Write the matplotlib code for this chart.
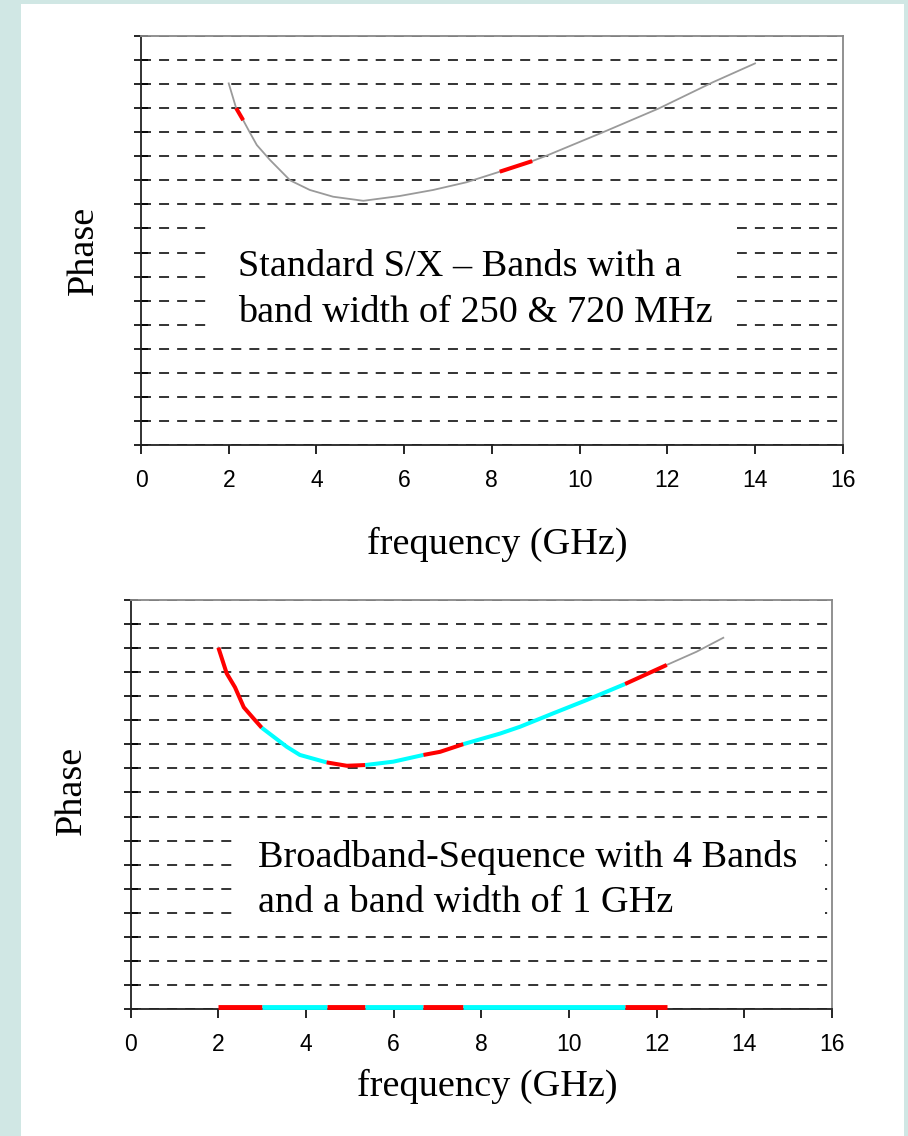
import numpy as np
import matplotlib.pyplot as plt
from matplotlib.patches import Rectangle

plt.rcParams['lines.scale_dashes'] = False

# Top panel: standard S/X observing (curve)
top_freq = [2.0, 2.17, 2.33, 2.49, 2.64, 2.94, 3.40, 3.85, 4.38, 5.07,
            5.9, 6.66, 7.42, 8.18, 8.92, 9.24, 10.6, 11.82, 13.03, 14.0]
top_phase = [15.03, 14.0, 13.5, 12.96, 12.47, 11.85, 11.0, 10.6, 10.32, 10.15,
             10.35, 10.6, 10.92, 11.36, 11.8, 12.02, 13.05, 14.0, 15.07, 15.86]
top_bands = [(2.17, 2.33), (8.18, 8.92)]
top_band_colors = ['red', 'red']

# Bottom panel: broadband sequence
bot_freq = [2.0, 2.19, 2.38, 2.58, 2.8, 2.99, 3.56, 3.86, 4.47, 4.93, 5.35,
            5.99, 6.68, 7.06, 7.59, 8.43, 8.88, 9.64, 10.40, 11.28, 12.23, 12.91, 13.52]
bot_phase = [15.02, 13.95, 13.37, 12.54, 12.08, 11.69, 10.9, 10.56, 10.25, 10.11, 10.14,
             10.28, 10.56, 10.69, 11.01, 11.45, 11.73, 12.29, 12.84, 13.51, 14.3, 14.85, 15.43]
bot_bands = [(2.0, 2.99), (2.99, 4.47), (4.47, 5.35), (5.35, 6.68),
             (6.68, 7.59), (7.59, 11.28), (11.28, 12.23)]
bot_band_colors = ['red', 'cyan', 'red', 'cyan', 'red', 'cyan', 'red']

xticks = [0, 2, 4, 6, 8, 10, 12, 14, 16]

top_text = "Standard S/X \u2013 Bands with a\nband width of 250 & 720 MHz"
bot_text = "Broadband-Sequence with 4 Bands\nand a band width of 1 GHz"

W, H = 908, 1136
fig = plt.figure(figsize=(W / 100, H / 100), dpi=100, facecolor='#d0e7e4')
fig.add_artist(Rectangle((21 / W, 0), (904 - 21) / W, 1 - 4 / H,
                         transform=fig.transFigure, fc='white', ec='none', zorder=-10))

serif = 'Liberation Serif'


def draw_panel(ax, freq, phase, bands, colors, text, tx, ty, lsp, on_axis):
    freq = np.array(freq)
    phase = np.array(phase)
    ax.set_xlim(0, 16)
    ax.set_ylim(0, 17)
    ax.set_axisbelow(True)
    ax.set_yticks(range(0, 18))
    ax.set_yticklabels([])
    ax.set_xticks(xticks)
    ax.grid(axis='y', color='#333333', linewidth=1.4, linestyle=(0, (7.2, 5.8)))
    ax.tick_params(axis='y', direction='inout', length=10.5, width=1.2)
    ax.tick_params(axis='x', direction='out', length=6.5, width=1.2, pad=11,
                   labelsize=16.5)
    for lab in ax.get_xticklabels():
        lab.set_family('Liberation Sans')
    for s in ['left', 'bottom']:
        ax.spines[s].set_color('#222222')
        ax.spines[s].set_linewidth(1.3)
    for s in ['top', 'right']:
        ax.spines[s].set_color('#888888')
        ax.spines[s].set_linewidth(1.3)

    ax.plot(freq, phase, color='#9a9a9a', lw=1.3, zorder=3)
    for (lo, hi), c in zip(bands, colors):
        m = (freq >= lo) & (freq <= hi)
        ax.plot(freq[m], phase[m], color=c, lw=2.9, zorder=4, solid_capstyle='butt')
        if on_axis:
            ax.hlines(0.1, lo, hi, colors=c, lw=3.5, zorder=5, clip_on=False)

    txt = ax.text(tx, ty, text, family=serif, fontsize=27.5, ha='left', va='center',
                  linespacing=lsp, zorder=3)
    ax.set_xlabel('frequency (GHz)', family=serif, fontsize=27.5)
    ax.set_ylabel('Phase', family=serif, fontsize=27.5)
    return txt


def add_text_box(ax, txt, pl, pr, pt, pb):
    # white label background, sized from the rendered text (pads in pixels)
    fig.canvas.draw()
    bb = txt.get_window_extent()
    inv = ax.transAxes.inverted()
    x0, y0 = inv.transform((bb.x0 - pl, bb.y0 - pb))
    x1, y1 = inv.transform((bb.x1 + pr, bb.y1 + pt))
    ax.add_patch(Rectangle((x0, y0), x1 - x0, y1 - y0, transform=ax.transAxes,
                           fc='white', ec='none', zorder=2))


ax1 = fig.add_axes([141 / W, 1 - 445 / H, (842.7 - 141) / W, 409 / H])
t1 = draw_panel(ax1, top_freq, top_phase, top_bands, top_band_colors,
                top_text, 2.21, 6.45, 1.45, False)
ax1.xaxis.set_label_coords(0.507, -0.2)
ax1.yaxis.set_label_coords(-0.057, 0.477)

ax2 = fig.add_axes([130.7 / W, 1 - 1009 / H, (832 - 130.7) / W, 409 / H])
t2 = draw_panel(ax2, bot_freq, bot_phase, bot_bands, bot_band_colors,
                bot_text, 2.9, 5.36, 1.38, True)
ax2.xaxis.set_label_coords(0.509, -0.147)
ax2.yaxis.set_label_coords(-0.06, 0.535)

add_text_box(ax1, t1, 32, 24, 34, 6)
add_text_box(ax2, t2, 26, 28, 12, 5)

fig.savefig('out.png', dpi=100, facecolor=fig.get_facecolor())
